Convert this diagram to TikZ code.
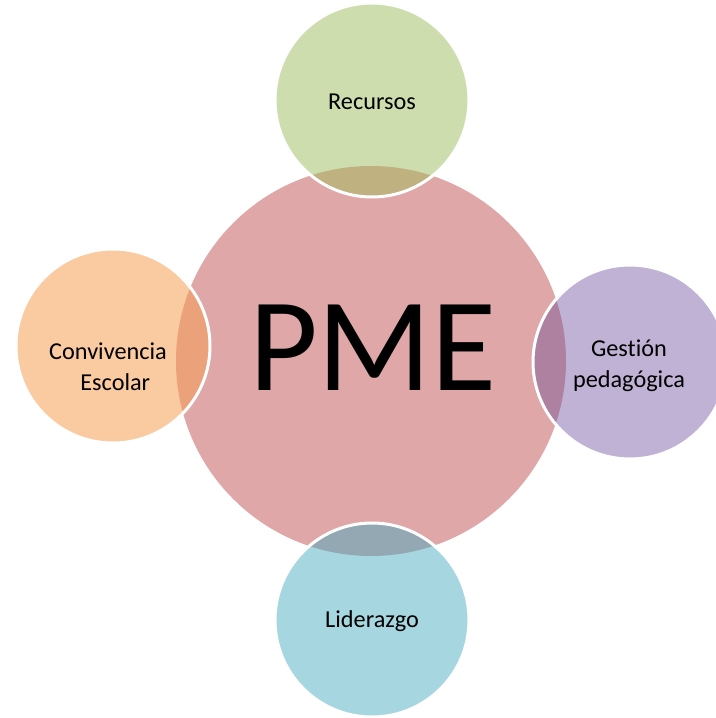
\documentclass[tikz,border=0pt]{standalone}
\usepackage{fontspec}
\setmainfont{Carlito}[Ligatures={NoCommon}]

\definecolor{pmeRed}{RGB}{223,167,167}
\definecolor{recGreen}{RGB}{205,221,174}
\definecolor{recOver}{RGB}{191,177,128}
\definecolor{gesPurple}{RGB}{192,178,212}
\definecolor{gesOver}{RGB}{175,129,161}
\definecolor{conOrange}{RGB}{250,202,161}
\definecolor{conOver}{RGB}{235,161,121}
\definecolor{lidBlue}{RGB}{166,214,224}
\definecolor{lidOver}{RGB}{147,168,178}

\tikzset{every picture/.style={line width=0.75pt}}
\tikzset{
  satlabel/.style={align=center,font=\fontsize{18.2}{23.5}\selectfont,text=black},
  ring/.style={draw=white,line width=2.25pt}
}

\begin{document}
\begin{tikzpicture}[x=0.75pt,y=0.75pt,yscale=-1,xscale=1]
	\useasboundingbox (0,0) rectangle (716,718);

	%Shape: Circle [PME]
	\fill[pmeRed] (371,361) circle (195);

	%Shape: Circle [Recursos]
	\fill[recGreen] (372,100) circle (97);
	\begin{scope}
		\clip (371,361) circle (195);
		\fill[recOver] (372,100) circle (97);
	\end{scope}
	\draw[ring] (372,100) circle (97);

	%Shape: Circle [Gestion]
	\fill[gesPurple] (630,362) circle (97);
	\begin{scope}
		\clip (371,361) circle (195);
		\fill[gesOver] (630,362) circle (97);
	\end{scope}
	\draw[ring] (630,362) circle (97);

	%Shape: Circle [Convivencia]
	\fill[conOrange] (113,346) circle (97);
	\begin{scope}
		\clip (371,361) circle (195);
		\fill[conOver] (113,346) circle (97);
	\end{scope}
	\draw[ring] (113,346) circle (97);

	%Shape: Circle [Liderazgo]
	\fill[lidBlue] (372,620) circle (97);
	\begin{scope}
		\clip (371,361) circle (195);
		\fill[lidOver] (372,620) circle (97);
	\end{scope}
	\draw[ring] (372,620) circle (97);

	% Text Node
	\draw (373,348) node (pme) [font=\fontsize{100}{100}\selectfont] {PME};
	% Text Node
	\draw (372,102) node (recursos) [satlabel] {Recursos};
	% Text Node
	\draw (629,366) node (gestion) [satlabel] {Gest{\kern0pt}ión\\pedagógica};
	% Text Node
	\draw (108,367) node (convivencia) [satlabel] {Convivencia\\\hspace{0.6em}Escolar};
	% Text Node
	\draw (372,621) node (liderazgo) [satlabel] {Liderazgo};

\end{tikzpicture}
\end{document}
